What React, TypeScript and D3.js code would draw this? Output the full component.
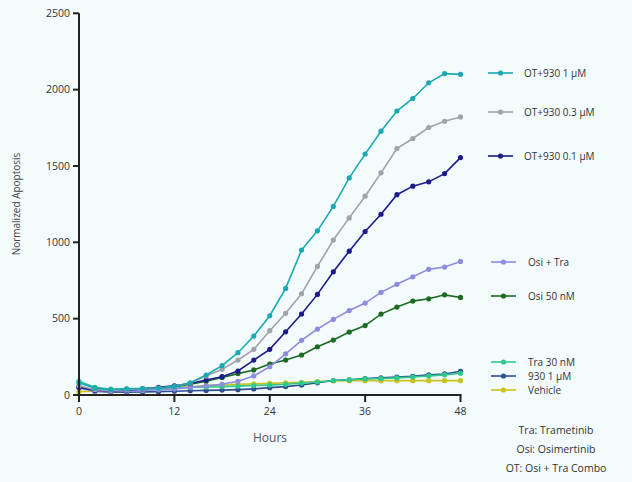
import React from "react";
import * as d3 from "d3";

const hours = d3.range(0, 49, 2);
const xTicks = [0, 12, 24, 36, 48];
const yTicks = [0, 500, 1000, 1500, 2000, 2500];

const ot1 = [80, 45, 35, 40, 42, 45, 55, 80, 131, 192, 277, 386, 519, 698, 949, 1075, 1235, 1422, 1578, 1728, 1860, 1942, 2045, 2105, 2100];
const ot03 = [60, 35, 30, 35, 40, 45, 55, 78, 124, 168, 229, 299, 421, 535, 663, 842, 1015, 1160, 1302, 1455, 1614, 1680, 1752, 1793, 1821];
const ot01 = [50, 30, 28, 32, 40, 50, 60, 75, 98, 120, 157, 229, 299, 414, 530, 659, 807, 942, 1071, 1184, 1312, 1368, 1396, 1450, 1555];
const osiTra = [45, 25, 22, 25, 30, 35, 40, 50, 60, 70, 90, 125, 185, 270, 358, 432, 495, 553, 602, 672, 725, 774, 823, 838, 875];
const osi50 = [55, 30, 28, 32, 38, 45, 55, 70, 90, 115, 140, 164, 203, 229, 262, 316, 360, 412, 455, 530, 576, 615, 630, 656, 639];
const tra30 = [90, 50, 38, 40, 42, 45, 48, 50, 52, 55, 58, 62, 65, 70, 78, 85, 95, 100, 105, 108, 112, 118, 125, 132, 142];
const c930 = [55, 25, 18, 18, 20, 22, 25, 28, 30, 32, 35, 40, 48, 55, 65, 80, 95, 100, 108, 112, 117, 122, 132, 138, 155];
const vehicle = [22, 25, 30, 33, 38, 45, 48, 54, 62, 66, 70, 73, 76, 80, 83, 88, 92, 94, 94, 94, 94, 94, 94, 94, 94];

const seriesNames = ["OT+930 1 µM", "OT+930 0.3 µM", "OT+930 0.1 µM", "Osi + Tra", "Osi 50 nM", "Tra 30 nM", "930 1 µM", "Vehicle"];
const seriesValues = [ot1, ot03, ot01, osiTra, osi50, tra30, c930, vehicle];
const seriesColors = ["#1aa9b2", "#a2a2aa", "#1b1b8a", "#8d8de0", "#1b6b22", "#2ec98f", "#2e4f8e", "#c9c41c"];
const legendY = [73, 112, 156, 262, 296, 362, 376, 390];
const footnotes = ["Tra: Trametinib", "Osi: Osimertinib", "OT: Osi + Tra Combo"];

export default function App() {
  const W = 632, H = 482;
  const x = d3.scaleLinear().domain([0, 48]).range([79, 460.5]);
  const y = d3.scaleLinear().domain([0, 2500]).range([395, 13.3]);
  const line = d3.line<number>().x((_, i) => x(hours[i])).y((d) => y(d));
  const font = "'Open Sans', 'Noto Sans', sans-serif";
  const drawOrder = [7, 6, 5, 4, 3, 2, 1, 0];
  return (
    <svg width={W} height={H} style={{ position: "absolute", left: 0, top: 0, background: "#f3fbfd" }} fontFamily={font}>
      <rect x={0} y={0} width={W} height={H} fill="#f3fbfd" />
      {drawOrder.map((si) => (
        <g key={si}>
          <path d={line(seriesValues[si]) || ""} fill="none" stroke={seriesColors[si]} strokeWidth={1.6} />
          {seriesValues[si].map((v, i) => (
            <circle key={i} cx={x(hours[i])} cy={y(v)} r={2.6} fill={seriesColors[si]} />
          ))}
        </g>
      ))}
      {/* axes */}
      <line x1={x(0)} x2={x(0)} y1={y(2500)} y2={y(0) + 1} stroke="#222" strokeWidth={2} />
      <line x1={x(0) - 1} x2={x(48) + 1} y1={y(0)} y2={y(0)} stroke="#222" strokeWidth={2} />
      {yTicks.map((t) => (
        <g key={t}>
          <line x1={x(0) - 6} x2={x(0)} y1={y(t)} y2={y(t)} stroke="#222" strokeWidth={2} />
          <text x={x(0) - 9} y={y(t)} dy="0.35em" textAnchor="end" fontSize={10.5} fill="#333">{t}</text>
        </g>
      ))}
      {xTicks.map((t) => (
        <g key={t}>
          <line x1={x(t)} x2={x(t)} y1={y(0)} y2={y(0) + 7} stroke="#222" strokeWidth={2} />
          <text x={x(t)} y={y(0) + 20} textAnchor="middle" fontSize={10.5} fill="#333">{t}</text>
        </g>
      ))}
      <text x={270} y={442} textAnchor="middle" fontSize={12} fill="#555">Hours</text>
      <text transform="translate(20,204) rotate(-90)" textAnchor="middle" fontSize={10} fill="#444">Normalized Apoptosis</text>
      {/* legend */}
      {seriesNames.map((n, i) => {
        const lx = i < 3 ? 488 : 491;
        const tx = i < 3 ? 524 : 528;
        return (
          <g key={n}>
            <line x1={lx} x2={lx + 25} y1={legendY[i]} y2={legendY[i]} stroke={seriesColors[i]} strokeWidth={1.6} />
            <circle cx={lx + 12.5} cy={legendY[i]} r={2.6} fill={seriesColors[i]} />
            <text x={tx} y={legendY[i]} dy="0.35em" fontSize={10} fill="#333">{n}</text>
          </g>
        );
      })}
      {footnotes.map((f, i) => (
        <text key={f} x={556} y={430 + i * 19} dy="0.35em" textAnchor="middle" fontSize={10.5} fill="#333">{f}</text>
      ))}
    </svg>
  );
}
